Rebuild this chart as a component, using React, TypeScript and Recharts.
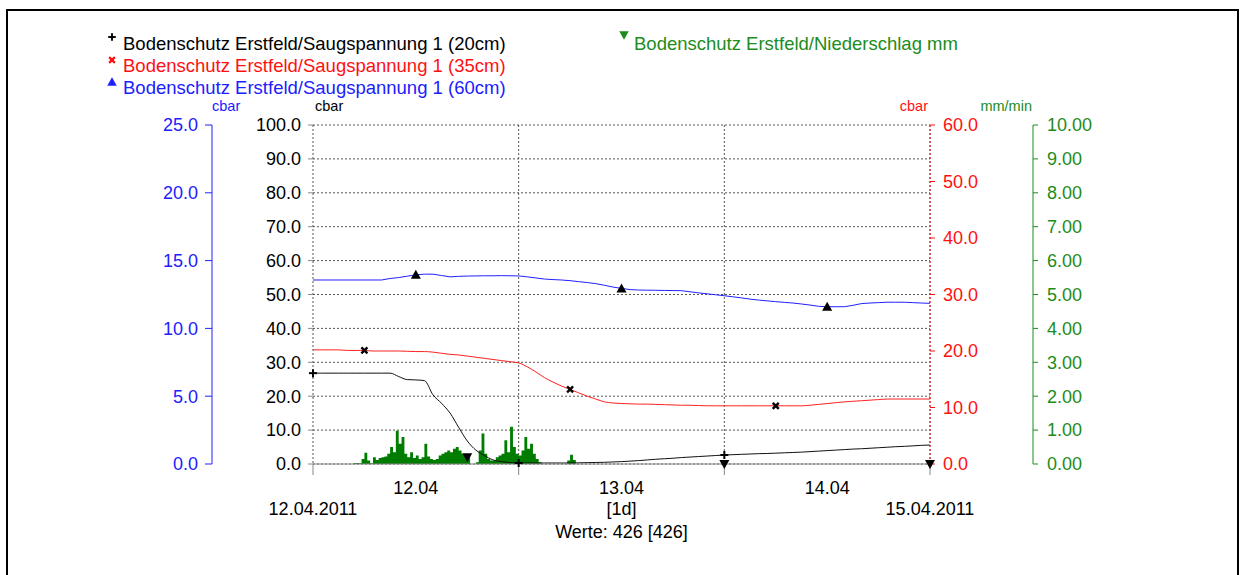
import { Area, CartesianGrid, ComposedChart, Line, XAxis, YAxis } from 'recharts'

const FONT = '"Liberation Sans", Arial, sans-serif'
const BLUE = '#2020ff'
const RED = '#ff1010'
const GREEN = '#1c8c1c'
const RAIN = '#007d00'

// hourly values from 12.04.2011 00:00 to 15.04.2011 00:00
const saug20 = [
  26.8, 26.8, 26.8, 26.8, 26.8, 26.8, 26.8, 26.8, 26.8, 26.8,
  25.8, 24.9, 24.8, 24.6, 20.4, 17.9, 15.0, 10.8, 6.8, 4.1, 2.5, 1.2, 0.7, 0.4, 0.3,
  0.3, 0.3, 0.3, 0.3, 0.3, 0.3,
  0.35, 0.4, 0.45, 0.5, 0.6, 0.7,
  0.85, 1.0, 1.2, 1.4, 1.55, 1.7, 1.9, 2.05, 2.2, 2.35, 2.5, 2.65,
  2.75, 2.85, 2.95, 3.05, 3.1, 3.2, 3.3, 3.4, 3.5,
  3.65, 3.8, 3.95, 4.1, 4.25, 4.4, 4.5, 4.65, 4.8, 4.95, 5.1, 5.2, 5.35, 5.5, 5.6,
]
const saug35 = [
  20.2, 20.2, 20.2, 20.2, 20.1, 20.1, 20.1, 20.0, 20.0, 20.0, 20.0, 19.95, 19.9, 19.9,
  19.8, 19.6, 19.4, 19.3, 19.1, 18.9, 18.7, 18.5, 18.3, 18.1, 17.9,
  17.2, 16.3, 15.3, 14.5, 13.8, 13.2, 12.6, 12.0, 11.5, 11.0, 10.8, 10.7,
  10.65, 10.6, 10.6, 10.55, 10.5, 10.45, 10.4, 10.4, 10.35,
  10.3, 10.3, 10.3, 10.3, 10.3, 10.3, 10.3, 10.3, 10.3, 10.3, 10.3, 10.3,
  10.4, 10.55, 10.7, 10.85, 11.0, 11.1, 11.2, 11.3, 11.4,
  11.5, 11.5, 11.5, 11.5, 11.5, 11.5,
]
const saug60 = [
  13.57, 13.57, 13.57, 13.57, 13.57, 13.57, 13.57, 13.57, 13.57,
  13.68, 13.75, 13.85, 13.95, 14.0, 14.0, 13.9, 13.8, 13.84, 13.86, 13.87, 13.88, 13.88, 13.89, 13.88, 13.87,
  13.8, 13.72, 13.64, 13.6, 13.57, 13.52, 13.45, 13.38, 13.3, 13.18, 13.05, 12.95,
  12.86, 12.83, 12.82, 12.81, 12.8, 12.79, 12.78, 12.7, 12.62, 12.55, 12.48, 12.41,
  12.33, 12.25, 12.16, 12.09, 12.03, 11.97, 11.92, 11.87, 11.8, 11.72, 11.63, 11.6,
  11.6, 11.6, 11.7, 11.83, 11.87, 11.9, 11.93, 11.93, 11.93, 11.9, 11.87, 11.85,
]

// Niederschlag mm/min, 20-minute steps starting at hour 4
const rainStartHour = 4
const rain = [
  0, 0, 0.02, 0.03, 0.02, 0.15, 0.33, 0.1, 0.02,
  0.2, 0.12, 0.18, 0.2, 0.22, 0.3, 0.5, 0.35, 0.98,
  0.6, 0.8, 0.3, 0.2, 0.35, 0.18, 0.25, 0.15, 0.2,
  0.6, 0.22, 0.15, 0.12, 0.15, 0.25, 0.3, 0.35, 0.4,
  0.35, 0.45, 0.5, 0.4, 0.3, 0.25, 0.2, 0, 0,
  0.05, 0.4, 0.9, 0.3, 0.15, 0.1, 0.1, 0.2, 0.25,
  0.3, 0.7, 0.35, 1.1, 0.5, 0.3, 0.25, 0.4, 0.8,
  0.45, 0.6, 0.3, 0.15, 0.05, 0, 0, 0, 0,
  0, 0, 0, 0, 0, 0.1, 0.27, 0.12, 0,
]

const marks20 = [0, 24, 48]
const marks35 = [6, 30, 54]
const marks60 = [12, 36, 60]
const marksRain = [18, 48, 72]

const dayTicks = [0, 24, 48, 72]
const labelTicks = [0, 12, 36, 60, 72]
const dayNames: Record<number, string> = { 12: '12.04', 36: '13.04', 60: '14.04' }

const blackTicks = [0, 10, 20, 30, 40, 50, 60, 70, 80, 90, 100]
const blueTicks = [0, 5, 10, 15, 20, 25]
const redTicks = [0, 10, 20, 30, 40, 50, 60]
const greenTicks = [0, 1, 2, 3, 4, 5, 6, 7, 8, 9, 10]

const data: any[] = []
for (let i = 0; i <= 72 * 3; i++) {
  const hourly = i % 3 === 0
  const r = i - rainStartHour * 3
  data.push({
    t: i / 3,
    s20: hourly ? saug20[i / 3] : null,
    s35: hourly ? saug35[i / 3] : null,
    s60: hourly ? saug60[i / 3] : null,
    rain: r >= 0 && r < rain.length ? rain[r] : 0,
  })
}

const Marker = ({ cx, cy, shape, color = '#000', k = 1 }: any) => {
  if (shape === 'plus')
    return (
      <g stroke={color} strokeWidth={2 * k}>
        <line x1={cx - 4 * k} y1={cy} x2={cx + 4 * k} y2={cy} />
        <line x1={cx} y1={cy - 4 * k} x2={cx} y2={cy + 4 * k} />
      </g>
    )
  if (shape === 'cross')
    return (
      <g stroke={color} strokeWidth={2.4 * k}>
        <line x1={cx - 3 * k} y1={cy - 3 * k} x2={cx + 3 * k} y2={cy + 3 * k} />
        <line x1={cx - 3 * k} y1={cy + 3 * k} x2={cx + 3 * k} y2={cy - 3 * k} />
      </g>
    )
  if (shape === 'up')
    return <polygon fill={color} points={`${cx},${cy - 5 * k} ${cx - 5 * k},${cy + 4 * k} ${cx + 5 * k},${cy + 4 * k}`} />
  return <polygon fill={color} points={`${cx - 5 * k},${cy - 4 * k} ${cx + 5 * k},${cy - 4 * k} ${cx},${cy + 5 * k}`} />
}

const markerDot = (hours: number[], shape: string) => (props: any) => {
  const { cx, cy, payload, index } = props
  if (cx == null || cy == null || !payload || !hours.some((h) => Math.abs(payload.t - h) < 0.01))
    return <g key={index} />
  return (
    <g key={index}>
      <Marker cx={cx} cy={cy} shape={shape} />
    </g>
  )
}

const EmptyTick = () => <g />

const DateTick = (props: any) => {
  const { x, y, payload } = props
  const v = payload.value
  const common = { x, textAnchor: 'middle' as const, fill: '#000', fontSize: 18, dy: '0.355em' }
  return (
    <g>
      {dayNames[v] && <text {...common} y={y + 13}>{dayNames[v]}</text>}
      {v === 0 && <text {...common} y={y + 34}>12.04.2011</text>}
      {v === 72 && <text {...common} y={y + 34}>15.04.2011</text>}
      {v === 36 && <text {...common} y={y + 34}>[1d]</text>}
      {v === 36 && <text {...common} y={y + 57}>Werte: 426 [426]</text>}
    </g>
  )
}

const legendRows = [
  { text: 'Bodenschutz Erstfeld/Saugspannung 1 (20cm)', color: '#000', shape: 'plus', x: 123, y: 44, mx: 112, my: 37 },
  { text: 'Bodenschutz Erstfeld/Saugspannung 1 (35cm)', color: RED, shape: 'cross', x: 123, y: 66, mx: 112, my: 60 },
  { text: 'Bodenschutz Erstfeld/Saugspannung 1 (60cm)', color: BLUE, shape: 'up', x: 123, y: 88, mx: 112, my: 82 },
  { text: 'Bodenschutz Erstfeld/Niederschlag mm', color: GREEN, shape: 'down', x: 634, y: 44, mx: 624, my: 35 },
]

const units = [
  { text: 'cbar', color: BLUE, left: 212, align: 'left' },
  { text: 'cbar', color: '#000', left: 315, align: 'left' },
  { text: 'cbar', color: RED, right: 1240 - 928, align: 'right' },
  { text: 'mm/min', color: GREEN, right: 1240 - 1032, align: 'right' },
]

export default function App() {
  return (
    <div
      style={{
        position: 'absolute',
        left: 0,
        top: 0,
        width: 1240,
        height: 575,
        overflow: 'hidden',
        background: '#fff',
        fontFamily: FONT,
      }}
    >
      <div
        style={{
          position: 'absolute',
          left: 6,
          top: 9,
          width: 1233,
          height: 620,
          border: '2px solid #000',
          boxSizing: 'border-box',
        }}
      />
      {legendRows.map((r) => (
        <div key={r.text}>
          <svg style={{ position: 'absolute', left: r.mx - 7, top: r.my - 7 }} width={14} height={14}>
            <Marker cx={7} cy={7} shape={r.shape} color={r.color} k={0.95} />
          </svg>
          <div
            style={{
              position: 'absolute',
              left: r.x,
              top: r.y - 9,
              fontSize: 18.5,
              lineHeight: '18px',
              color: r.color,
              whiteSpace: 'nowrap',
            }}
          >
            {r.text}
          </div>
        </div>
      ))}
      {units.map((u, i) => (
        <div
          key={i}
          style={{
            position: 'absolute',
            left: u.left,
            right: u.right,
            top: 100,
            fontSize: 14.5,
            lineHeight: '13px',
            color: u.color,
            textAlign: u.align as any,
            whiteSpace: 'nowrap',
          }}
        >
          {u.text}
        </div>
      ))}
      <div style={{ position: 'absolute', left: 0, top: 0 }}>
        <ComposedChart
          width={1240}
          height={575}
          data={data}
          margin={{ top: 125, left: 132, right: 127, bottom: 40 }}
        >
          <CartesianGrid yAxisId="y1black" stroke="#555" strokeDasharray="2 2" />
          <XAxis
            dataKey="t"
            type="number"
            domain={[0, 72]}
            ticks={dayTicks}
            interval={0}
            height={11}
            axisLine={{ stroke: '#888' }}
            tickLine={{ stroke: '#888' }}
            tickSize={11}
            tick={<EmptyTick />}
          />
          <XAxis
            xAxisId="lbl"
            dataKey="t"
            type="number"
            domain={[0, 72]}
            ticks={labelTicks}
            interval={0}
            height={60}
            axisLine={false}
            tickLine={false}
            tickSize={0}
            tickMargin={0}
            tick={<DateTick />}
          />
          <YAxis
            yAxisId="y1black"
            orientation="left"
            width={101}
            domain={[0, 100]}
            ticks={blackTicks}
            interval={0}
            axisLine={false}
            tickLine={{ stroke: '#888' }}
            tickSize={5}
            tickMargin={7}
            tick={{ fill: '#000', fontSize: 18 }}
            tickFormatter={(v: number) => v.toFixed(1)}
          />
          <YAxis
            yAxisId="y2blue"
            orientation="left"
            width={80}
            domain={[0, 25]}
            ticks={blueTicks}
            interval={0}
            axisLine={{ stroke: BLUE }}
            tickLine={{ stroke: BLUE }}
            tickSize={7}
            tickMargin={7}
            tick={{ fill: BLUE, fontSize: 18 }}
            tickFormatter={(v: number) => v.toFixed(1)}
          />
          <YAxis
            yAxisId="y1red"
            orientation="right"
            width={103}
            domain={[0, 60]}
            ticks={redTicks}
            interval={0}
            axisLine={{ stroke: RED, strokeDasharray: '2 2' }}
            tickLine={{ stroke: RED }}
            tickSize={5}
            tickMargin={8}
            tick={{ fill: RED, fontSize: 18 }}
            tickFormatter={(v: number) => v.toFixed(1)}
          />
          <YAxis
            yAxisId="y2green"
            orientation="right"
            width={80}
            domain={[0, 10]}
            ticks={greenTicks}
            interval={0}
            axisLine={{ stroke: GREEN }}
            tickLine={{ stroke: GREEN }}
            tickSize={5}
            tickMargin={9}
            tick={{ fill: GREEN, fontSize: 18 }}
            tickFormatter={(v: number) => v.toFixed(2)}
          />
          <Area
            yAxisId="y2green"
            dataKey="rain"
            type="stepAfter"
            stroke="none"
            fill={RAIN}
            fillOpacity={1}
            dot={markerDot(marksRain, 'down')}
            activeDot={false}
            isAnimationActive={false}
          />
          <Line
            yAxisId="y1black"
            dataKey="s20"
            type="monotone"
            stroke="#111"
            strokeWidth={1}
            connectNulls
            dot={markerDot(marks20, 'plus')}
            activeDot={false}
            isAnimationActive={false}
          />
          <Line
            yAxisId="y1red"
            dataKey="s35"
            type="monotone"
            stroke="#ff2020"
            strokeWidth={1}
            connectNulls
            dot={markerDot(marks35, 'cross')}
            activeDot={false}
            isAnimationActive={false}
          />
          <Line
            yAxisId="y2blue"
            dataKey="s60"
            type="linear"
            stroke="#2020ff"
            strokeWidth={1}
            connectNulls
            dot={markerDot(marks60, 'up')}
            activeDot={false}
            isAnimationActive={false}
          />
        </ComposedChart>
      </div>
    </div>
  )
}
